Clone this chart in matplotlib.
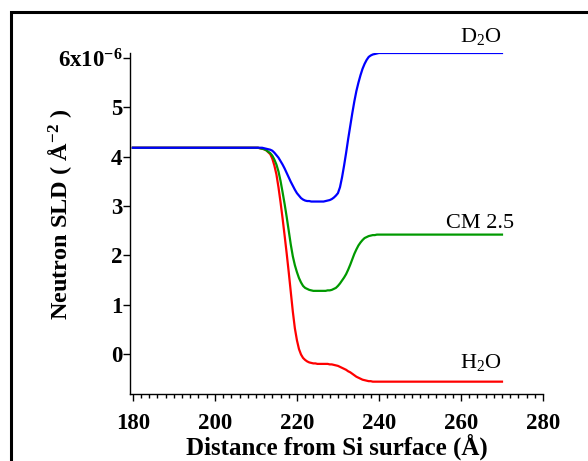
import matplotlib
matplotlib.use("Agg")
import matplotlib.pyplot as plt
from matplotlib.patches import Rectangle
from matplotlib.ticker import MultipleLocator, FuncFormatter

plt.rcParams['font.family'] = ['Liberation Serif', 'DejaVu Serif']
plt.rcParams['mathtext.fontset'] = 'custom'
plt.rcParams['mathtext.rm'] = 'Liberation Serif'
plt.rcParams['mathtext.it'] = 'Liberation Serif:italic'
plt.rcParams['mathtext.bf'] = 'Liberation Serif:bold'

# distance from Si surface (Angstrom): flat start, 0.5 A sampling through the interface, flat end
distance = [180] + [210 + 0.5 * i for i in range(61)] + [270]

# SLD values in units of 1e-6 A^-2
sld_d2o = [4.18,
           4.18, 4.18, 4.18, 4.18, 4.17, 4.16, 4.15, 4.14, 4.12, 4.08,
           4.03, 3.98, 3.91, 3.84, 3.76, 3.67, 3.58, 3.49, 3.41, 3.33,
           3.26, 3.21, 3.16, 3.13, 3.11, 3.10, 3.10, 3.09, 3.09, 3.09,
           3.09, 3.09, 3.09, 3.09, 3.10, 3.11, 3.12, 3.14, 3.17, 3.21,
           3.26, 3.38, 3.58, 3.82, 4.08, 4.36, 4.62, 4.88, 5.12, 5.33,
           5.50, 5.65, 5.78, 5.88, 5.96, 6.02, 6.05, 6.07, 6.08, 6.09,
           6.10,
           6.10]
sld_cm25 = [4.18,
            4.18, 4.18, 4.17, 4.16, 4.15, 4.13, 4.10, 4.07, 4.02, 3.94,
            3.84, 3.70, 3.51, 3.28, 3.04, 2.78, 2.50, 2.22, 1.98, 1.80,
            1.66, 1.54, 1.45, 1.38, 1.34, 1.32, 1.30, 1.29, 1.28, 1.28,
            1.28, 1.28, 1.28, 1.28, 1.28, 1.29, 1.29, 1.30, 1.32, 1.34,
            1.38, 1.43, 1.49, 1.55, 1.62, 1.71, 1.81, 1.92, 2.03, 2.12,
            2.20, 2.26, 2.31, 2.35, 2.37, 2.39, 2.40, 2.41, 2.41, 2.42,
            2.42,
            2.42]
sld_h2o = [4.18,
           4.18, 4.18, 4.17, 4.16, 4.15, 4.13, 4.09, 4.05, 3.96, 3.82,
           3.64, 3.38, 3.08, 2.75, 2.40, 2.04, 1.66, 1.26, 0.86, 0.52,
           0.28, 0.10, -0.01, -0.08, -0.12, -0.15, -0.17, -0.18, -0.19, -0.19,
           -0.20, -0.20, -0.20, -0.20, -0.20, -0.20, -0.21, -0.21, -0.22, -0.23,
           -0.24, -0.26, -0.28, -0.30, -0.32, -0.35, -0.37, -0.40, -0.43, -0.46,
           -0.48, -0.50, -0.52, -0.53, -0.54, -0.55, -0.55, -0.56, -0.56, -0.56,
           -0.56,
           -0.56]

labels = ["D$_2$O", "CM 2.5", "H$_2$O"]
yticks = [0, 1, 2, 3, 4, 5, 6]
xticks = [180, 200, 220, 240, 260, 280]

fig = plt.figure(figsize=(5.88, 4.61), dpi=100)
ax = fig.add_axes([130/588, 1-394/461, (543-130)/588, (394-53)/461])

ax.plot(distance, sld_h2o, color='#ff0000', lw=1.6)
ax.plot(distance, sld_cm25, color='#009900', lw=1.6)
ax.plot(distance, sld_d2o, color='#0000ff', lw=1.6)

ax.set_xlim(179.3, 280)
ax.set_ylim(-0.81, 6.10)
ax.set_xticks(xticks)
ax.set_yticks(yticks)
ax.xaxis.set_minor_locator(MultipleLocator(2))

def yfmt(v, pos):
    if abs(v - 6) < 1e-9:
        return r"6x10$^{\mathbf{-6}}$"
    return "%d" % round(v)
ax.yaxis.set_major_formatter(FuncFormatter(yfmt))

for s in ['top', 'right']:
    ax.spines[s].set_visible(False)
for s in ['left', 'bottom']:
    ax.spines[s].set_linewidth(1.0)
ax.tick_params(axis='both', which='major', length=5, width=1.0, labelsize=16.5)
ax.tick_params(axis='x', which='major', pad=9)
ax.tick_params(axis='y', which='major', pad=0.5)
ax.tick_params(axis='both', which='minor', length=3, width=1.0)
ax.tick_params(axis='y', which='minor', left=False)
for t in ax.get_xticklabels() + ax.get_yticklabels():
    t.set_fontweight('bold')

ax.set_xlabel("Distance from Si surface (Å)", fontsize=18, fontweight='bold')
ax.set_ylabel(r"Neutron SLD ( Å$^{\mathbf{-2}}$ )", fontsize=17.5, fontweight='bold')
ax.xaxis.set_label_coords(0.5, (394-434)/341)
ax.yaxis.set_label_coords((74-130)/413, 0.528)

ax.text(270, 6.33, labels[0], ha='right', va='baseline', fontsize=16)
ax.text(272.9, 2.55, labels[1], ha='right', va='baseline', fontsize=16)
ax.text(270, -0.28, labels[2], ha='right', va='baseline', fontsize=16)

# outer frame (partially cropped)
frame = Rectangle((10.5/588, -0.2), 1.2, (461-11.5)/461 + 0.2, transform=fig.transFigure,
                  fill=False, edgecolor='black', lw=2.2, clip_on=False)
fig.add_artist(frame)

fig.savefig("out.png", dpi=100)
